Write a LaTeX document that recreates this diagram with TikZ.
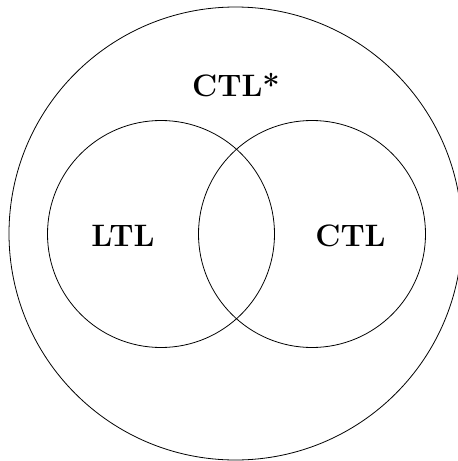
\documentclass[tikz,border=0pt]{standalone}
\begin{document}
\begin{tikzpicture}[x=1pt,y=-1pt,
  setc/.style={draw=black,line width=0.8pt,circle,inner sep=0pt},
  lbl/.style={font=\fontsize{31}{37}\selectfont\bfseries,anchor=base,inner sep=0pt}]
\useasboundingbox (0,0) rectangle (458,461);
\begin{scope}
\clip (0,0) rectangle (458,461);
\node[setc,minimum size=453pt] (all) at (235.5,233.5) {};
\end{scope}
\node[setc,minimum size=227pt] (ltlc) at (161,234) {};
\node[setc,minimum size=227pt] (ctlc) at (312,234) {};
\node[lbl] (ctlstar) at (236,96) {CTL*};
\node[lbl] (ltl) at (123,246) {LTL};
\node[lbl] (ctl) at (350.5,246) {CTL};
\end{tikzpicture}
\end{document}
